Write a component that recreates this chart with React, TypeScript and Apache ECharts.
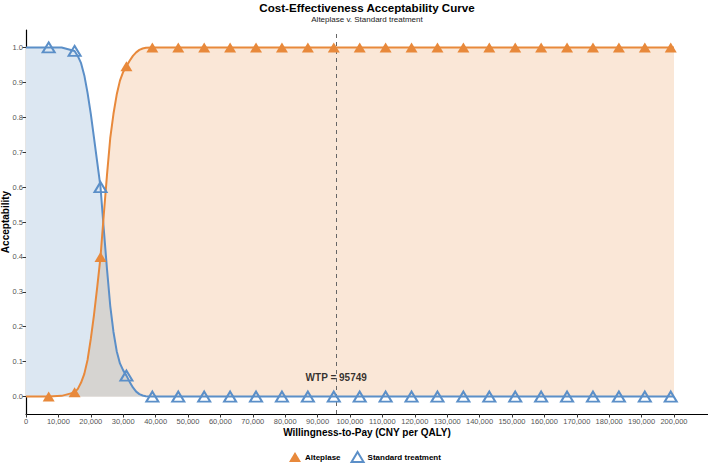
import React, { useEffect, useRef } from "react";
import * as echarts from "echarts";

// Willingness-to-pay threshold (CNY per QALY)
const WTP_THRESHOLD = 95749;

// Smoothed acceptability curves, sampled along the WTP axis
const curveWTP = [
  0, 7000, 11000, 15000, 16000, 17000, 18000, 19000, 20000, 21000, 22000, 23000,
  24000, 25000, 26000, 27000, 28000, 29000, 30000, 31000, 32000, 33000, 34000,
  35000, 36000, 37000, 39000, 200000,
];
const standardCurve = [
  1, 1, 1, 0.99, 0.975, 0.955, 0.92, 0.87, 0.81, 0.74, 0.67, 0.6, 0.48, 0.365,
  0.26, 0.185, 0.13, 0.095, 0.075, 0.06, 0.042, 0.026, 0.014, 0.007, 0.003,
  0.001, 0, 0,
];
const alteplaseCurve = [
  0, 0, 0.002, 0.012, 0.022, 0.04, 0.065, 0.105, 0.165, 0.235, 0.315, 0.4, 0.52,
  0.635, 0.74, 0.81, 0.865, 0.905, 0.93, 0.946, 0.962, 0.976, 0.986, 0.993,
  0.997, 0.999, 1, 1,
];

// Simulation points shown as markers
const markerWTP = [
  7000, 15000, 23000, 31000, 39000, 47000, 55000, 63000, 71000, 79000, 87000,
  95000, 103000, 111000, 119000, 127000, 135000, 143000, 151000, 159000, 167000,
  175000, 183000, 191000, 199000,
];
const markerAlteplase = [
  0, 0.012, 0.4, 0.946, 1, 1, 1, 1, 1, 1, 1, 1, 1, 1, 1, 1, 1, 1, 1, 1, 1, 1, 1,
  1, 1,
];
const markerStandard = [
  1, 0.99, 0.6, 0.06, 0, 0, 0, 0, 0, 0, 0, 0, 0, 0, 0, 0, 0, 0, 0, 0, 0, 0, 0, 0,
  0,
];

// Axis ticks
const xTicks = [
  0, 10000, 20000, 30000, 40000, 50000, 60000, 70000, 80000, 90000, 100000,
  110000, 120000, 130000, 140000, 150000, 160000, 170000, 180000, 190000, 200000,
];
const yTicks = [0, 0.1, 0.2, 0.3, 0.4, 0.5, 0.6, 0.7, 0.8, 0.9, 1.0];

const FONT = '"Liberation Sans", Arial, Helvetica, sans-serif';
const BLUE = "#5b8fc8";
const ORANGE = "#e8893b";
const BLUE_FILL = "#dce7f2";
const ORANGE_FILL = "#fae7d7";
const OVERLAP_FILL = "#d6d4d1";

const zip = (xs: number[], ys: number[]) => xs.map((x, i) => [x, ys[i]]);

export default function App() {
  const ref = useRef<HTMLDivElement>(null);

  useEffect(() => {
    if (!ref.current) return;
    const chart = echarts.init(ref.current, null, { renderer: "svg" });

    const overlap = curveWTP.map((x, i) => [
      x,
      Math.min(standardCurve[i], alteplaseCurve[i]),
    ]);

    const areaSeries = (name: string, data: number[][], color: string, z: number) => ({
      name,
      type: "line",
      data,
      symbol: "none",
      silent: true,
      z,
      lineStyle: { width: 0, opacity: 0 },
      areaStyle: { color, opacity: 1 },
    });

    const curveSeries = (name: string, data: number[][], color: string) => ({
      name,
      type: "line",
      data,
      symbol: "none",
      silent: true,
      z: 4,
      lineStyle: { width: 2, color },
    });

    const axisName = { fontSize: 10, fontWeight: "bold", color: "#000", fontFamily: FONT };
    const tickLabel = { margin: 3, fontSize: 7.5, color: "#555", fontFamily: FONT };

    chart.setOption({
      animation: false,
      backgroundColor: "#ffffff",
      textStyle: { fontFamily: FONT },
      title: [
        {
          text: "Cost-Effectiveness Acceptability Curve",
          left: 367,
          top: 1.5,
          padding: 0,
          textAlign: "center",
          textStyle: { fontSize: 11.6, fontWeight: "bold", color: "#000", fontFamily: FONT },
        },
        {
          text: "Alteplase v. Standard treatment",
          left: 367,
          top: 15.5,
          padding: 0,
          textAlign: "center",
          textStyle: { fontSize: 8, fontWeight: "normal", color: "#222", fontFamily: FONT },
        },
      ],
      legend: {
        data: ["Alteplase", "Standard treatment"],
        left: 289,
        top: 451,
        padding: 0,
        itemWidth: 12,
        itemHeight: 10,
        itemGap: 10,
        textStyle: { fontSize: 8, fontWeight: "bold", color: "#000", fontFamily: FONT, padding: [0, 0, 0, -1] },
      },
      grid: { left: 26, right: 0, top: 30, bottom: 49, containLabel: false, outerBoundsMode: "none" },
      xAxis: {
        type: "value",
        min: 0,
        max: 210500,
        name: "Willingness-to-Pay (CNY per QALY)",
        nameLocation: "middle",
        nameGap: 13,
        nameMoveOverlap: false,
        nameTextStyle: axisName,
        splitLine: { show: false },
        axisLine: { show: true, onZero: false, lineStyle: { color: "#000", width: 1.2 } },
        axisTick: {
          show: true,
          length: 3.5,
          customValues: xTicks,
          lineStyle: { color: "#333", width: 1 },
        },
        axisLabel: {
          ...tickLabel,
          customValues: xTicks,
          formatter: (v: number) => v.toLocaleString("en-US"),
        },
      },
      yAxis: {
        type: "value",
        min: -0.05,
        max: 1.05,
        name: "Acceptability",
        nameLocation: "middle",
        nameGap: 16,
        nameMoveOverlap: false,
        nameTextStyle: axisName,
        splitLine: { show: false },
        axisLine: { show: true, onZero: false, lineStyle: { color: "#000", width: 1.2 } },
        axisTick: {
          show: true,
          length: 3.5,
          customValues: yTicks,
          lineStyle: { color: "#333", width: 1 },
        },
        axisLabel: {
          ...tickLabel,
          customValues: yTicks,
          formatter: (v: number) => v.toFixed(1),
        },
      },
      series: [
        areaSeries("standard-area", zip(curveWTP, standardCurve), BLUE_FILL, 1),
        areaSeries("alteplase-area", zip(curveWTP, alteplaseCurve), ORANGE_FILL, 2),
        areaSeries("overlap-area", overlap, OVERLAP_FILL, 3),
        curveSeries("standard-curve", zip(curveWTP, standardCurve), BLUE),
        curveSeries("alteplase-curve", zip(curveWTP, alteplaseCurve), ORANGE),
        {
          name: "wtp",
          type: "scatter",
          data: [[WTP_THRESHOLD, 0.055]],
          symbolSize: 0,
          silent: true,
          z: 5,
          label: {
            show: true,
            position: "inside",
            formatter: "WTP = " + WTP_THRESHOLD,
            fontSize: 10,
            fontWeight: "bold",
            color: "#000",
            fontFamily: FONT,
          },
          markLine: {
            silent: true,
            symbol: ["none", "none"],
            label: { show: false },
            lineStyle: { type: [4, 4], color: "#666", width: 1 },
            data: [{ xAxis: WTP_THRESHOLD }],
          },
        },
        {
          name: "Alteplase",
          type: "scatter",
          data: zip(markerWTP, markerAlteplase),
          symbol: "triangle",
          symbolSize: [12, 10],
          z: 6,
          itemStyle: { color: ORANGE, opacity: 1 },
        },
        {
          name: "Standard treatment",
          type: "scatter",
          data: zip(markerWTP, markerStandard),
          symbol: "triangle",
          symbolSize: [12, 10],
          z: 7,
          itemStyle: { color: "rgba(255,255,255,0)", borderColor: BLUE, borderWidth: 2, opacity: 1 },
        },
      ],
    });

    return () => chart.dispose();
  }, []);

  return (
    <div
      ref={ref}
      style={{ position: "absolute", left: 0, top: 0, width: 708, height: 463 }}
    />
  );
}
